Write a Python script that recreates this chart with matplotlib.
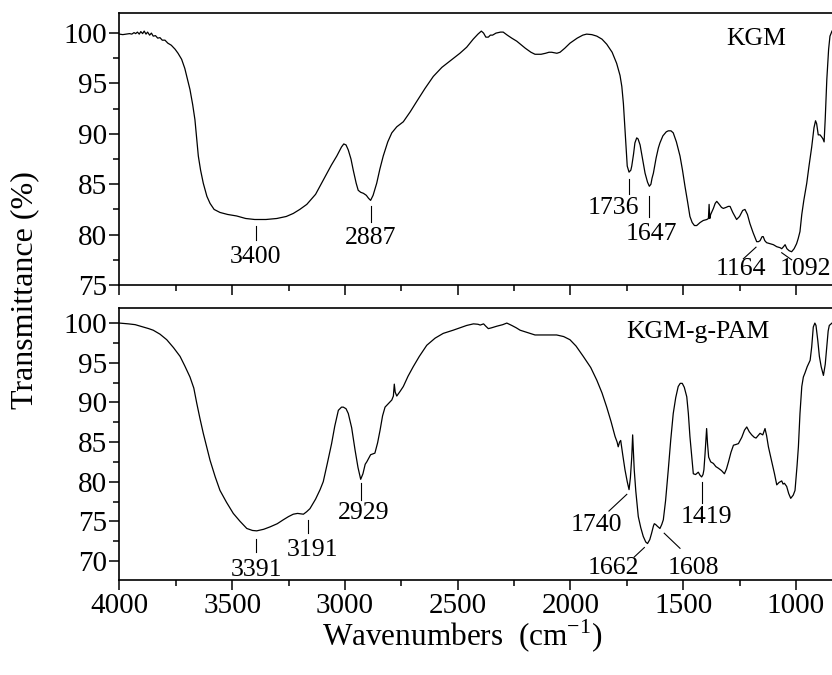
import numpy as np
import matplotlib
matplotlib.use('Agg')
import matplotlib.pyplot as plt
from matplotlib.ticker import MultipleLocator

plt.rcParams['font.family'] = ['Liberation Serif', 'DejaVu Serif']
plt.rcParams['mathtext.fontset'] = 'custom'
plt.rcParams['mathtext.rm'] = 'Liberation Serif'

# KGM spectrum (wavenumber, transmittance %)
kgm_wn = [4000, 3985, 3970, 3955, 3945, 3935, 3928, 3920, 3912, 3905, 3897, 3890, 3882, 3875,
          3866, 3858, 3850, 3840, 3830, 3820, 3810, 3798, 3785, 3770, 3753, 3740, 3724, 3710,
          3700, 3687, 3675, 3665, 3650, 3640, 3628, 3612, 3598, 3580, 3554, 3520, 3480, 3440,
          3400, 3350, 3302, 3260, 3229, 3200, 3169, 3130, 3096, 3060, 3036, 3015, 3005, 2995,
          2985, 2973, 2963, 2950, 2941, 2930, 2918, 2905, 2895, 2886, 2875, 2859, 2845, 2830,
          2810, 2792, 2770, 2741, 2710, 2682, 2645, 2608, 2570, 2530, 2490, 2460, 2431, 2410,
          2395, 2385, 2375, 2364, 2355, 2345, 2330, 2310, 2298, 2280, 2260, 2238, 2200, 2175,
          2157, 2130, 2110, 2095, 2083, 2060, 2046, 2025, 2002, 1970, 1945, 1928, 1905, 1883,
          1860, 1839, 1815, 1795, 1780, 1772, 1765, 1758, 1752, 1748, 1740, 1732, 1728, 1720,
          1714, 1706, 1700, 1691, 1680, 1669, 1658, 1650, 1643, 1638, 1632, 1620, 1610, 1603,
          1590, 1575, 1566, 1554, 1544, 1530, 1514, 1503, 1492, 1480, 1470, 1460, 1450, 1440,
          1425, 1411, 1395, 1388, 1385, 1382, 1378, 1366, 1358, 1351, 1340, 1330, 1322, 1310,
          1300, 1292, 1280, 1263, 1250, 1236, 1226, 1215, 1204, 1190, 1174, 1166, 1159, 1150,
          1145, 1138, 1130, 1115, 1100, 1085, 1070, 1063, 1055, 1048, 1040, 1030, 1019, 1008,
          997, 990, 982, 974, 965, 952, 942, 930, 920, 913, 908, 901, 893, 886, 880, 875,
          870, 863, 855, 849, 840]
kgm_t = [99.9, 99.85, 99.9, 99.95, 99.9, 100.05, 99.95, 100.1, 99.9, 100.15, 99.95, 100.2, 99.9, 100.1,
         99.8, 100.0, 99.7, 99.75, 99.5, 99.55, 99.3, 99.3, 99.0, 98.8, 98.4, 98.0, 97.4, 96.5,
         95.6, 94.4, 92.9, 91.4, 87.8, 86.4, 85.1, 83.8, 83.1, 82.5, 82.2, 82.0, 81.85, 81.6,
         81.5, 81.5, 81.6, 81.8, 82.1, 82.5, 83.0, 84.0, 85.4, 86.9, 87.8, 88.7, 89.0, 88.9,
         88.4, 87.5, 86.4, 85.1, 84.4, 84.2, 84.1, 83.9, 83.6, 83.4, 83.9, 85.1, 86.5, 87.8,
         89.2, 90.1, 90.7, 91.2, 92.2, 93.2, 94.5, 95.7, 96.6, 97.3, 98.0, 98.6, 99.4, 99.9,
         100.2, 100.0, 99.6, 99.6, 99.8, 99.8, 100.0, 100.1, 100.1, 99.8, 99.5, 99.2, 98.5, 98.1,
         97.9, 97.9, 98.0, 98.1, 98.1, 98.0, 98.1, 98.5, 99.0, 99.5, 99.8, 99.9, 99.85, 99.7,
         99.4, 98.9, 98.1, 97.0, 95.8, 94.7, 93.0, 90.4, 88.0, 86.8, 86.2, 86.4, 86.8, 88.0,
         89.1, 89.6, 89.5, 88.9, 87.5, 86.1, 85.2, 84.8, 85.0, 85.6, 86.1, 87.6, 88.6, 89.1,
         89.8, 90.2, 90.3, 90.3, 90.1, 89.2, 87.8, 86.4, 84.8, 83.2, 81.8, 81.2, 80.9, 80.9,
         81.2, 81.4, 81.5, 81.6, 83.0, 81.6, 82.0, 82.6, 83.1, 83.3, 83.0, 82.7, 82.6, 82.7,
         82.8, 82.8, 82.2, 81.5, 81.8, 82.4, 82.5, 82.0, 81.1, 80.2, 79.3, 79.3, 79.4, 79.8,
         79.8, 79.4, 79.2, 79.1, 79.0, 78.8, 78.7, 78.6, 78.8, 79.0, 78.6, 78.4, 78.3, 78.6,
         79.1, 79.6, 80.3, 82.0, 83.4, 85.1, 86.8, 88.7, 90.6, 91.3, 91.0, 89.9, 89.9, 89.7, 89.5, 89.2,
         91.5, 95.4, 98.4, 99.7, 100.2]

# KGM-g-PAM spectrum
pam_wn = [4000, 3960, 3930, 3894, 3870, 3850, 3820, 3790, 3760, 3731, 3710, 3687, 3670, 3657,
          3643, 3628, 3612, 3598, 3575, 3554, 3525, 3495, 3465, 3435, 3410, 3391, 3360, 3332,
          3300, 3273, 3250, 3229, 3210, 3195, 3184, 3170, 3155, 3130, 3110, 3096, 3078, 3059,
          3045, 3029, 3015, 3007, 2995, 2985, 2970, 2955, 2942, 2930, 2920, 2910, 2903, 2886,
          2867, 2855, 2844, 2833, 2822, 2805, 2792, 2785, 2781, 2777, 2770, 2755, 2741, 2720,
          2697, 2670, 2637, 2600, 2564, 2520, 2460, 2430, 2410, 2400, 2385, 2375, 2364, 2350,
          2327, 2300, 2282, 2260, 2240, 2223, 2190, 2157, 2110, 2061, 2030, 2002, 1975, 1943,
          1910, 1883, 1860, 1839, 1820, 1802, 1793, 1788, 1782, 1777, 1768, 1758, 1748, 1740,
          1734, 1728, 1724, 1720, 1717, 1710, 1699, 1688, 1677, 1666, 1658, 1648, 1640, 1632,
          1628, 1622, 1615, 1603, 1595, 1588, 1578, 1566, 1555, 1544, 1533, 1522, 1513, 1504,
          1495, 1484, 1477, 1470, 1462, 1455, 1445, 1433, 1425, 1418, 1412, 1408, 1403, 1396,
          1392, 1387, 1378, 1366, 1355, 1344, 1330, 1317, 1308, 1299, 1288, 1277, 1265, 1255,
          1240, 1228, 1218, 1207, 1196, 1185, 1177, 1168, 1159, 1147, 1137, 1130, 1122, 1115,
          1107, 1095, 1085, 1075, 1063, 1057, 1051, 1041, 1032, 1023, 1012, 1004, 995, 989,
          982, 974, 967, 960, 950, 937, 930, 923, 916, 911, 903, 896, 888, 878, 870, 863,
          857, 852, 840]
pam_t = [100.0, 99.9, 99.8, 99.5, 99.3, 99.1, 98.6, 97.9, 96.9, 95.8, 94.6, 93.2, 91.8, 89.9,
         88.0, 86.1, 84.3, 82.7, 80.6, 78.9, 77.4, 76.0, 75.0, 74.1, 73.85, 73.8, 74.0, 74.3,
         74.7, 75.2, 75.6, 75.9, 76.0, 75.95, 75.9, 76.2, 76.6, 77.8, 79.0, 80.0, 82.3, 84.8,
         87.0, 89.0, 89.4, 89.4, 89.2, 88.6, 86.8, 84.0, 81.8, 80.3, 81.0, 82.2, 82.5, 83.4,
         83.6, 84.9, 86.5, 88.3, 89.4, 89.9, 90.3, 90.8, 92.3, 91.3, 90.8, 91.4, 92.0, 93.3,
         94.5, 95.8, 97.2, 98.1, 98.7, 99.1, 99.7, 99.9, 99.85, 99.75, 99.9, 99.6, 99.3, 99.4,
         99.6, 99.8, 100.0, 99.7, 99.4, 99.1, 98.8, 98.5, 98.5, 98.5, 98.3, 97.9, 97.1, 95.8,
         94.4, 92.8, 91.2, 89.4, 87.6, 85.7, 85.0, 84.4, 85.0, 85.2, 83.4, 81.5, 80.0, 79.0,
         80.5, 83.1, 85.9, 83.5, 81.5, 78.8, 75.6, 74.2, 73.1, 72.4, 72.2, 72.7, 73.5, 74.4,
         74.7, 74.6, 74.4, 74.1, 74.6, 75.2, 77.6, 81.5, 85.3, 88.6, 90.6, 92.0, 92.4, 92.4,
         91.9, 90.7, 88.6, 85.7, 83.2, 81.0, 80.9, 81.2, 80.8, 80.6, 80.9, 81.5, 83.5, 86.7,
         84.8, 83.1, 82.5, 82.3, 81.9, 81.7, 81.4, 81.0, 81.6, 82.5, 83.7, 84.6, 84.7, 84.8,
         85.6, 86.5, 86.9, 86.3, 85.9, 85.6, 85.5, 85.8, 86.1, 85.9, 86.7, 85.8, 84.4, 83.5,
         82.5, 81.0, 79.6, 79.9, 80.1, 79.7, 79.8, 79.4, 78.5, 77.9, 78.3, 78.9, 82.0, 84.4,
         88.6, 92.0, 93.2, 93.7, 94.5, 95.3, 97.0, 99.5, 100.0, 99.7, 97.8, 95.8, 94.5, 93.4, 94.8, 97.0,
         99.0, 99.7, 100.0]

# peak annotations: label, text position, marker line ends
kgm_peaks = ['3400', '2887', '1736', '1647', '1164', '1092']
kgm_text = [(3395, 77.8), (2886, 79.7), (1810, 82.6), (1639, 80.1), (1244, 76.6), (958, 76.6)]
kgm_lines = [(3395, 80.9, 3395, 79.5), (2886, 82.8, 2886, 81.3), (1740, 85.5, 1740, 84.0),
             (1651, 83.8, 1651, 81.7), (1233, 77.6, 1177, 78.75), (1063, 78.2, 1019, 77.5)]

pam_peaks = ['3391', '3191', '2929', '1740', '1662', '1608', '1419']
pam_text = [(3391, 68.9), (3145, 71.4), (2918, 76.0), (1886, 74.6), (1810, 69.1), (1455, 69.1), (1396, 75.6)]
pam_lines = [(3396, 72.8, 3396, 71.1), (3162, 75.2, 3162, 73.5), (2930, 79.8, 2930, 77.7),
             (1829, 76.3, 1750, 78.4), (1717, 70.5, 1672, 71.7), (1584, 73.5, 1514, 71.6),
             (1418, 80.0, 1418, 77.3)]

TICK_FS = 21
NOTE_FS = 18.5

fig = plt.figure(figsize=(8.32, 6.75), dpi=100)
ax1 = fig.add_axes([0.1435, 0.5778, 0.8565, 0.4030])
ax2 = fig.add_axes([0.1435, 0.1407, 0.8565, 0.4030])


def style(ax, ylim, yticks, show_xlabels):
    ax.set_xlim(4000, 840)
    ax.set_ylim(*ylim)
    ax.spines['right'].set_visible(False)
    for s in ['left', 'top', 'bottom']:
        ax.spines[s].set_linewidth(1.2)
    ax.xaxis.set_major_locator(MultipleLocator(500))
    ax.xaxis.set_minor_locator(MultipleLocator(250))
    ax.set_yticks(yticks)
    ax.yaxis.set_minor_locator(MultipleLocator(2.5))
    ax.tick_params(which='major', direction='out', length=7, width=1.1, labelsize=TICK_FS, pad=2)
    ax.tick_params(which='minor', direction='out', length=4, width=1.1)
    ax.tick_params(axis='x', which='both', top=False, labelbottom=show_xlabels)
    ax.tick_params(axis='y', which='both', right=False)


style(ax1, (75, 102.0), [75, 80, 85, 90, 95, 100], False)
style(ax2, (67.6, 101.9), [70, 75, 80, 85, 90, 95, 100], True)

ax1.plot(kgm_wn, kgm_t, color='black', lw=0.9)
ax2.plot(pam_wn, pam_t, color='black', lw=0.9)

for lab, (tx, ty), (x1, y1, x2, y2) in zip(kgm_peaks, kgm_text, kgm_lines):
    ax1.plot([x1, x2], [y1, y2], color='black', lw=0.8)
    ax1.text(tx, ty, lab, fontsize=NOTE_FS, ha='center', va='center', clip_on=False)
for lab, (tx, ty), (x1, y1, x2, y2) in zip(pam_peaks, pam_text, pam_lines):
    ax2.plot([x1, x2], [y1, y2], color='black', lw=0.8)
    ax2.text(tx, ty, lab, fontsize=NOTE_FS, ha='center', va='center', clip_on=False)

ax1.text(1174, 99.4, 'KGM', fontsize=NOTE_FS, ha='center', va='center')
ax2.text(1433, 98.9, 'KGM-g-PAM', fontsize=NOTE_FS, ha='center', va='center')

fig.text(0.030, 1 - 290 / 675, 'Transmittance (%)', rotation=90, fontsize=23,
         ha='center', va='center')
fig.text(0.556, 1 - 636 / 675, 'Wavenumbers  (cm$^{\\mathregular{-1}}$)', fontsize=22.5,
         ha='center', va='center')

fig.savefig('out.png', dpi=100)
